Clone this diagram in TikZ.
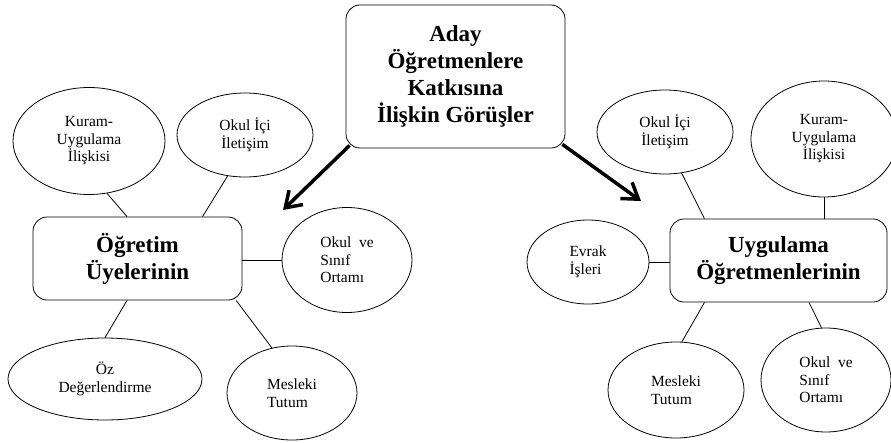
\documentclass[tikz,border=0pt]{standalone}
\usepackage{fontspec}
\setmainfont{Liberation Serif}
\usetikzlibrary{calc,shapes.geometric,arrows.meta}

\begin{document}
\begin{tikzpicture}[x=1pt,y=-1pt,
        kutu/.style={draw,rounded corners=14pt,line width=0.8pt,align=center,font=\fontsize{23}{27}\selectfont\bfseries},
        balon/.style={ellipse,draw,line width=0.8pt,inner sep=0pt,font=\fontsize{15.5}{17.5}\selectfont},
        bag/.style={line width=0.8pt},
        ok/.style={line width=3.5pt,-{Straight Barb[length=15pt,width=20pt]}}]
    \useasboundingbox (0,0) rectangle (891,442);

    % main boxes
    \node[kutu,minimum width=219pt,minimum height=143pt] (ana) at (455.5,76.5) {Aday\\Öğretmenlere\\Katkısına\\İlişkin Görüşler};
    \node[kutu,minimum width=209pt,minimum height=83pt] (ou) at (137.5,258.5) {Öğretim\\Üyelerinin};
    \node[kutu,minimum width=217pt,minimum height=83pt] (ub) at (778.5,260.5) {Uygulama\\Öğretmenlerinin};

    % ellipses round the left box
    \node[balon,align=center,minimum width=152pt,minimum height=107pt] (kl) at (89,141) {Kuram-\\Uygulama\\İlişkisi};
    \node[balon,align=center,minimum width=136pt,minimum height=84pt] (ol) at (245,135) {Okul İçi\\İletişim};
    \node[balon,align=left,minimum width=130pt,minimum height=105pt] (sl) at (347,260) {Okul~ ve\\Sınıf\\Ortamı};
    \node[balon,align=center,minimum width=194pt,minimum height=82pt] (zl) at (105,379) {Öz\\Değerlendirme};
    \node[balon,align=left,minimum width=130pt,minimum height=94pt] (ml) at (292,393) {Mesleki\\Tutum};

    % ellipses round the right box
    \node[balon,align=center,minimum width=136pt,minimum height=84pt] (or) at (665,132) {Okul İçi\\İletişim};
    \node[balon,align=center,minimum width=146pt,minimum height=116pt] (kr) at (824,139) {Kuram-\\Uygulama\\İlişkisi};
    \node[balon,align=left,minimum width=122pt,minimum height=84pt] (ev) at (588,262) {Evrak\\İşleri};
    \node[balon,align=left,minimum width=136pt,minimum height=96pt] (mr) at (676,390) {Mesleki\\Tutum};
    \node[balon,align=left,minimum width=130pt,minimum height=104pt] (sr) at (826,380) {Okul~ ve\\Sınıf\\Ortamı};

    % arrow ends
    \coordinate (ucl) at (283,210);
    \coordinate (ucr) at (641,201);

    % thick arrows
    \draw[ok] ($(ana.south west)+(4,-3)$) -- (ucl);
    \draw[ok] ($(ana.south east)+(-3,-4)$) -- (ucr);

    % connections, left
    \draw[bag] (kl.289) -- ($(ou.north west)!0.45!(ou.north east)$);
    \draw[bag] (ol.247) -- ($(ou.north west)!0.81!(ou.north east)$);
    \draw[bag] (sl.west) -- (sl.west -| ou.east);
    \draw[bag] (zl.north) -- ($(ou.south west)!0.45!(ou.south east)$);
    \draw[bag] (ml.114) -- ($(ou.south west)!0.97!(ou.south east)$);

    % connections, right
    \draw[bag] (or.292) -- ($(ub.north west)!0.16!(ub.north east)$);
    \draw[bag] (kr.south) -- (kr.south |- ub.north);
    \draw[bag] (ev.east) -- (ev.east -| ub.west);
    \draw[bag] (mr.83) -- ($(ub.south west)!0.16!(ub.south east)$);
    \draw[bag] (sr.95) -- ($(ub.south west)!0.64!(ub.south east)$);
\end{tikzpicture}
\end{document}
